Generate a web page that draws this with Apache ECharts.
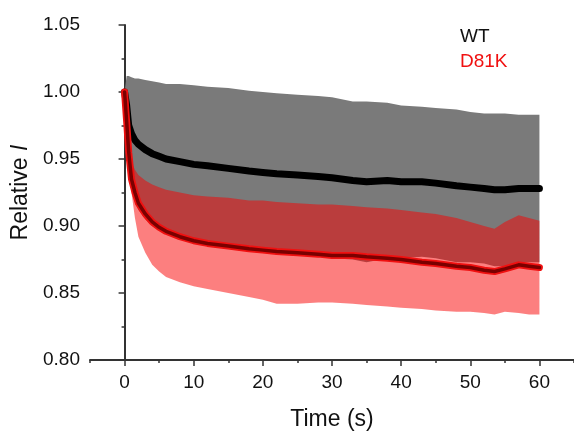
<!DOCTYPE html>
<html lang="en">
<head>
    <meta charset="UTF-8">
    <title>Relative I vs time</title>
    <script src="https://cdn.jsdelivr.net/npm/echarts@6/dist/echarts.min.js"></script>
</head>
<body style="margin:0">
    <div id="main" style="width: 574px;height:436px;"></div>
    <script type="text/javascript">
        // values
        var time = [0, 0.3, 0.6, 1, 1.5, 2, 3, 4, 5, 6, 8, 10, 12, 15, 18, 20, 22, 25, 28, 30, 33, 35, 38, 40, 43, 45, 48, 50, 52, 53.5, 55, 57, 58.5, 60];

        var wtMean = [1.000, 0.990, 0.975, 0.969, 0.964, 0.961, 0.957, 0.954, 0.952, 0.950, 0.948, 0.946, 0.945, 0.943, 0.941, 0.940, 0.939, 0.938, 0.937, 0.936, 0.934, 0.933, 0.934, 0.933, 0.933, 0.932, 0.930, 0.929, 0.928, 0.927, 0.927, 0.928, 0.928, 0.928];
        var wtUpper = [1.000, 1.012, 1.012, 1.011, 1.010, 1.010, 1.009, 1.008, 1.007, 1.006, 1.006, 1.005, 1.004, 1.003, 1.001, 1.000, 0.999, 0.998, 0.997, 0.996, 0.993, 0.993, 0.992, 0.990, 0.989, 0.988, 0.987, 0.985, 0.984, 0.984, 0.984, 0.983, 0.983, 0.983];
        var wtLower = [1.000, 0.968, 0.938, 0.927, 0.918, 0.912, 0.905, 0.900, 0.897, 0.894, 0.890, 0.887, 0.886, 0.883, 0.881, 0.880, 0.879, 0.878, 0.878, 0.876, 0.875, 0.873, 0.876, 0.876, 0.877, 0.876, 0.873, 0.873, 0.872, 0.870, 0.870, 0.872, 0.873, 0.873];

        var mutMean = [1.000, 0.978, 0.955, 0.935, 0.925, 0.917, 0.909, 0.903, 0.899, 0.896, 0.892, 0.889, 0.887, 0.885, 0.883, 0.882, 0.881, 0.880, 0.879, 0.878, 0.878, 0.877, 0.876, 0.875, 0.873, 0.872, 0.870, 0.869, 0.867, 0.866, 0.868, 0.871, 0.870, 0.869];
        var mutUpper = [1.000, 0.990, 0.967, 0.948, 0.942, 0.938, 0.934, 0.931, 0.929, 0.927, 0.925, 0.923, 0.922, 0.921, 0.919, 0.919, 0.918, 0.917, 0.916, 0.916, 0.915, 0.914, 0.913, 0.912, 0.910, 0.909, 0.906, 0.903, 0.900, 0.898, 0.903, 0.908, 0.906, 0.904];
        var mutLower = [1.000, 0.975, 0.945, 0.925, 0.906, 0.892, 0.880, 0.871, 0.866, 0.862, 0.858, 0.855, 0.853, 0.850, 0.847, 0.845, 0.842, 0.842, 0.843, 0.843, 0.842, 0.841, 0.840, 0.839, 0.838, 0.837, 0.836, 0.836, 0.835, 0.834, 0.836, 0.835, 0.834, 0.834];

        var xTicks = [0, 10, 20, 30, 40, 50, 60];

        function pairs(ys) {
            var out = [];
            for (var i = 0; i < time.length; i++) out.push([time[i], ys[i]]);
            return out;
        }
        function bandData(lo, hi) {
            var out = [];
            for (var i = 0; i < time.length; i++) out.push([time[i], lo[i], hi[i]]);
            return out;
        }
        // one polygon through the library's coords: upper edge forward, lower edge back
        function bandRenderer(lo, hi, color) {
            return function (params, api) {
                if (params.dataIndexInside !== 0) return null;
                var pts = [];
                for (var i = 0; i < time.length; i++) pts.push(api.coord([time[i], hi[i]]));
                for (var j = time.length - 1; j >= 0; j--) pts.push(api.coord([time[j], lo[j]]));
                return {
                    type: 'polygon',
                    shape: { points: pts },
                    style: { fill: color }
                };
            };
        }

        var myChart = echarts.init(document.getElementById('main'));
        var font = 'Liberation Sans, Arial, sans-serif';
        var axisColor = '#333';

        var option = {
            animation: false,
            grid: { left: 90, right: -6, top: 25, bottom: 68 },
            legend: {
                orient: 'vertical',
                left: 450,
                top: 22,
                itemWidth: 0,
                itemHeight: 0,
                itemGap: 6,
                icon: 'rect',
                textStyle: { fontFamily: font, fontSize: 19 },
                data: [
                    { name: 'WT', textStyle: { color: '#111' } },
                    { name: 'D81K', textStyle: { color: '#f01010' } }
                ]
            },
            xAxis: [{
                type: 'value',
                min: -5,
                max: 65,
                interval: 5,
                name: 'Time (s)',
                nameLocation: 'middle',
                nameGap: 48,
                nameTextStyle: { fontFamily: font, fontSize: 23, color: '#111' },
                axisLine: { lineStyle: { color: axisColor, width: 2 } },
                axisTick: { customValues: xTicks, length: 6, lineStyle: { color: axisColor, width: 1.5 } },
                axisLabel: { customValues: xTicks, margin: 13, fontFamily: font, fontSize: 19, color: '#111' },
                splitLine: { show: false }
            }, {
                // minor ticks every 5 s
                type: 'value',
                min: -5,
                max: 65,
                interval: 5,
                position: 'bottom',
                axisLine: { show: false },
                axisTick: { length: 3, lineStyle: { color: axisColor, width: 1.5 } },
                axisLabel: { show: false },
                splitLine: { show: false }
            }],
            yAxis: {
                type: 'value',
                min: 0.8,
                max: 1.05,
                interval: 0.05,
                name: '{a|Relative }{b|I}',
                nameLocation: 'middle',
                nameGap: 45,
                nameTextStyle: {
                    rich: {
                        a: { fontFamily: font, fontSize: 23, color: '#111' },
                        b: { fontFamily: font, fontSize: 23, color: '#111', fontStyle: 'italic' }
                    }
                },
                axisLine: { show: true, lineStyle: { color: axisColor, width: 2 } },
                axisTick: { show: true, length: 6, lineStyle: { color: axisColor, width: 1.5 } },
                minorTick: { show: true, splitNumber: 2, length: 3, lineStyle: { color: axisColor, width: 1.5 } },
                axisLabel: {
                    margin: 10,
                    fontFamily: font,
                    fontSize: 19,
                    color: '#111',
                    formatter: function (v) { return v.toFixed(2); }
                },
                splitLine: { show: false }
            },
            series: [
                {
                    name: 'WT band', type: 'custom', silent: true,
                    renderItem: bandRenderer(wtLower, wtUpper, 'rgb(122,122,122)'),
                    encode: { x: 0, y: [1, 2] },
                    data: bandData(wtLower, wtUpper)
                },
                {
                    name: 'WT', type: 'line', data: pairs(wtMean), symbol: 'none',
                    lineStyle: { color: '#000', width: 7, cap: 'round', join: 'round' }
                },
                {
                    name: 'D81K band', type: 'custom', silent: true,
                    renderItem: bandRenderer(mutLower, mutUpper, 'rgba(250,0,0,0.5)'),
                    encode: { x: 0, y: [1, 2] },
                    data: bandData(mutLower, mutUpper)
                },
                {
                    name: 'D81K', type: 'line', data: pairs(mutMean), symbol: 'none',
                    lineStyle: { color: '#f01010', width: 7, cap: 'round', join: 'round' }
                },
                {
                    name: 'D81K', type: 'line', data: pairs(mutMean), symbol: 'none',
                    lineStyle: { color: '#7a0000', width: 3.5, cap: 'round', join: 'round' }
                }
            ]
        };

        myChart.setOption(option);
    </script>
</body>
</html>
